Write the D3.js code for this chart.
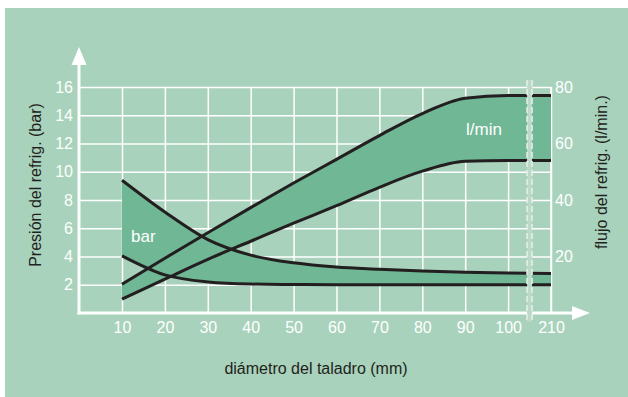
<!doctype html>
<html lang="es">
<head>
<meta charset="UTF-8" />
<title>Presión y flujo del refrigerante</title>
<script src="https://cdn.jsdelivr.net/npm/d3@7"></script>
<style>
  body { margin: 0; background: #fff; }
  svg text { font-family: "Liberation Sans", Arial, sans-serif; }
</style>
</head>
<body>
<div id="chart"></div>
<script>
// diameters (mm) - the last one sits after the axis break
const diameters = ["10", "20", "30", "40", "50", "60", "70", "80", "90", "100", "210"];

// coolant pressure band (bar)
const pressureHigh = [9.4, 7.15, 5.2, 4.1, 3.55, 3.25, 3.1, 2.97, 2.88, 2.83, 2.8];
const pressureLow = [4.05, 2.7, 2.2, 2.05, 2.02, 2.0, 2.0, 2.0, 2.0, 2.0, 2.0];

// coolant flow band (l/min)
const flowHigh = [10.2, 19.4, 28.4, 37.3, 46, 54.4, 62.8, 70.6, 76, 77, 77];
const flowLow = [4.9, 12, 19, 25.4, 31.8, 38, 44.5, 50.2, 53.7, 54, 54];

const barTicks = [2, 4, 6, 8, 10, 12, 14, 16];
const flowTicks = [20, 40, 60, 80];

const width = 628, height = 397;
const plotLeft = 79, plotRight = 551, plotTop = 87, plotBottom = 313;
const bg = "#a8d2bb", band = "#6fb795", ink = "#231f20";

const svg = d3.select("#chart").append("svg")
  .attr("width", width)
  .attr("height", height);

svg.append("rect")
  .attr("x", 5).attr("y", 8)
  .attr("width", width - 5).attr("height", height - 8)
  .attr("fill", bg);

const x = d3.scalePoint().domain(diameters).range([122, plotRight]);
const y = d3.scaleLinear().domain([0, 16]).range([plotBottom, plotTop]);
const yFlow = d3.scaleLinear().domain([0, 80]).range([plotBottom, plotTop]);

// grid + tick labels
const yAxis = svg.append("g")
  .attr("transform", `translate(${plotLeft},0)`)
  .call(d3.axisLeft(y).tickValues(barTicks).tickSize(-(plotRight - plotLeft)).tickPadding(6));

const xAxis = svg.append("g")
  .attr("transform", `translate(0,${plotBottom})`)
  .call(d3.axisBottom(x).tickSize(-(plotBottom - plotTop)).tickPadding(9));

const rAxis = svg.append("g")
  .attr("transform", `translate(${plotRight},0)`)
  .call(d3.axisRight(yFlow).tickValues(flowTicks).tickSize(0).tickPadding(4));

svg.append("line")
  .attr("x1", plotRight).attr("x2", plotRight)
  .attr("y1", plotTop).attr("y2", plotBottom)
  .attr("stroke", "#fff").attr("stroke-width", 1.5);

[yAxis, xAxis, rAxis].forEach(g => {
  g.select(".domain").remove();
  g.selectAll(".tick line").attr("stroke", "#fff").attr("stroke-width", 1.5);
  g.selectAll(".tick text").attr("fill", "#fff").style("font-size", "16px");
});

// bands
const area = d3.area().x((d, i) => x(diameters[i])).curve(d3.curveMonotoneX);
const line = d3.line().x((d, i) => x(diameters[i])).curve(d3.curveMonotoneX);

svg.append("path")
  .datum(pressureHigh.map((v, i) => [v, pressureLow[i]]))
  .attr("fill", band)
  .attr("d", area.y0(d => y(d[1])).y1(d => y(d[0])));

svg.append("path")
  .datum(flowHigh.map((v, i) => [v, flowLow[i]]))
  .attr("fill", band)
  .attr("d", area.y0(d => yFlow(d[1])).y1(d => yFlow(d[0])));

[[pressureHigh, y], [pressureLow, y], [flowHigh, yFlow], [flowLow, yFlow]].forEach(([vals, sc]) => {
  svg.append("path")
    .datum(vals)
    .attr("fill", "none")
    .attr("stroke", ink)
    .attr("stroke-width", 3)
    .attr("d", line.y(d => sc(d)));
});

// band labels
svg.append("text").text("bar")
  .attr("x", 131).attr("y", 242)
  .attr("fill", "#fff").style("font-size", "17px");
svg.append("text").text("l/min")
  .attr("x", 466).attr("y", 135)
  .attr("fill", "#fff").style("font-size", "17px");

// axis lines with arrows
svg.append("line")
  .attr("x1", plotLeft).attr("x2", plotLeft)
  .attr("y1", plotBottom + 1.5).attr("y2", 64)
  .attr("stroke", "#fff").attr("stroke-width", 3);
svg.append("path")
  .attr("d", `M${plotLeft - 7.5},65 L${plotLeft + 7.5},65 L${plotLeft},47 Z`)
  .attr("fill", "#fff");

svg.append("line")
  .attr("x1", plotLeft - 1.5).attr("x2", 573)
  .attr("y1", plotBottom).attr("y2", plotBottom)
  .attr("stroke", "#fff").attr("stroke-width", 3);
svg.append("path")
  .attr("d", `M572,${plotBottom - 7} L572,${plotBottom + 7} L590,${plotBottom} Z`)
  .attr("fill", "#fff");

// axis break between 100 and 210
const bx = (x("100") + x("210")) / 2;
svg.append("rect")
  .attr("x", bx - 2.5).attr("y", 80)
  .attr("width", 5).attr("height", 242)
  .attr("fill", "#bcd8c9");
[bx - 2.5, bx + 2.5].forEach(px => {
  svg.append("line")
    .attr("x1", px).attr("x2", px)
    .attr("y1", 80).attr("y2", 322)
    .attr("stroke", "#e6f0ea").attr("stroke-width", 1.5)
    .attr("stroke-dasharray", "6,3");
});

// axis titles
svg.append("text").text("Presión del refrig. (bar)")
  .attr("transform", "translate(41,185) rotate(-90)")
  .attr("text-anchor", "middle")
  .attr("fill", ink).style("font-size", "16px");
svg.append("text").text("flujo del refrig. (l/min.)")
  .attr("transform", "translate(607,172) rotate(-90)")
  .attr("text-anchor", "middle")
  .attr("fill", ink).style("font-size", "16px");
svg.append("text").text("diámetro del taladro (mm)")
  .attr("x", 316).attr("y", 374)
  .attr("text-anchor", "middle")
  .attr("fill", ink).style("font-size", "16px");
</script>
</body>
</html>
